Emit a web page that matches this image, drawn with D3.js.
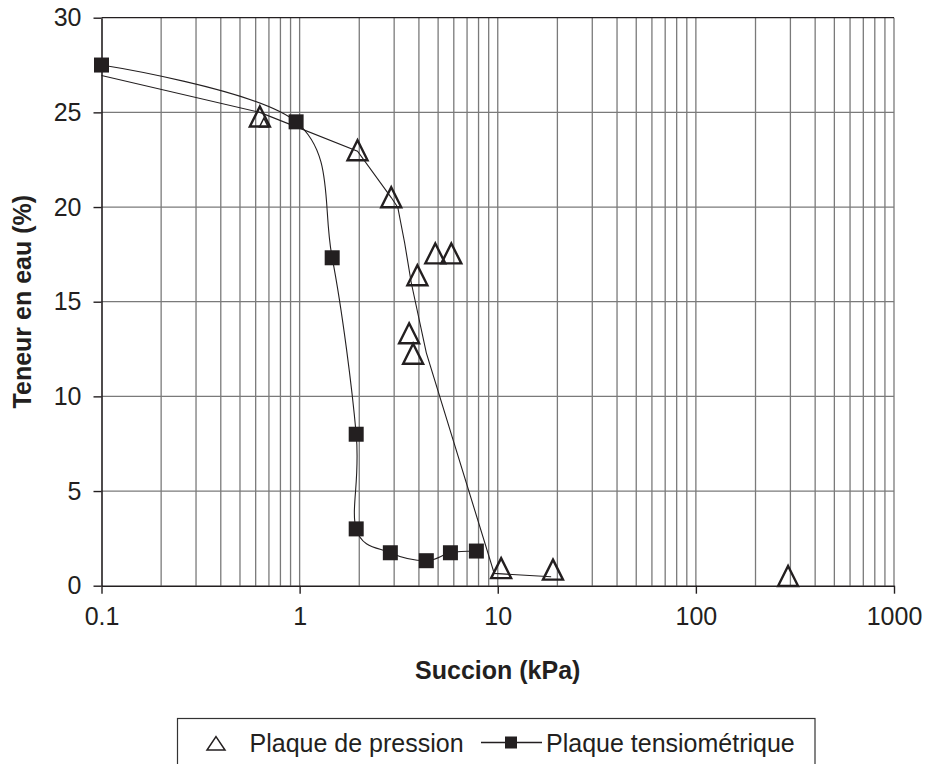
<!DOCTYPE html>
<html>
<head>
<meta charset="utf-8">
<script src="https://cdn.jsdelivr.net/npm/d3@7"></script>
<style>
  html, body { margin: 0; padding: 0; background: #fff; }
  svg { display: block; font-family: "Liberation Sans", Arial, Helvetica, sans-serif; }
</style>
</head>
<body>
<svg id="chart" width="927" height="764"></svg>
<script>
// ---- Data ----
const xTickValues = [0.1, 1, 10, 100, 1000];
const xTickLabels = ["0.1", "1", "10", "100", "1000"];
const yTickValues = [0, 5, 10, 15, 20, 25, 30];
const yTickLabels = ["0", "5", "10", "15", "20", "25", "30"];

// Plaque de pression (triangles, no line)
const pressionX = [0.63, 1.96, 2.9, 4.84, 5.83, 3.93, 3.57, 3.74, 10.4, 19.0, 292];
const pressionY = [24.78, 23.0, 20.52, 17.55, 17.55, 16.4, 13.33, 12.25, 0.93, 0.85, 0.51];
// small, partly hidden triangle next to the first one
const pressionMasqueX = [0.66];
const pressionMasqueY = [24.46];

// Plaque tensiométrique (squares with smoothed line)
const tensioX = [0.1, 0.96, 1.46, 1.93, 1.93, 2.87, 4.36, 5.77, 7.8];
const tensioY = [27.5, 24.5, 17.32, 8.0, 3.0, 1.74, 1.32, 1.74, 1.83];

// unlabelled curve through the pressure-plate data
const courbeX = [0.1, 0.63, 1.96, 2.9, 3.13, 3.39, 3.66, 4.36, 5.95, 9.6, 18.6];
const courbeY = [26.95, 25.0, 22.95, 20.5, 19.98, 18.1, 16.0, 12.3, 7.7, 0.65, 0.47];

const xTitle = "Succion (kPa)";
const yTitle = "Teneur en eau (%)";
const legendLabels = ["Plaque de pression", "Plaque tensiométrique"];

(function () {
// ---- Layout ----
const svg = d3.select("#chart");
const ink = "#231f20";
const gridColor = "#7a7a7a";
const pl = 101.5, pr = 894, pt = 17.7, pb = 585.7;

const x = d3.scaleLog().domain([0.1, 1000]).range([pl, pr]);
const y = d3.scaleLinear().domain([0, 30]).range([pb, pt]);

// vertical grid (all log minor ticks)
const vGrid = [];
for (let e = -1; e < 3; e++) {
  for (let m = 1; m <= 9; m++) {
    const v = m * Math.pow(10, e);
    if (v > 0.1 + 1e-9) vGrid.push(v);
  }
}
vGrid.push(1000);
svg.append("g").selectAll("line").data(vGrid).join("line")
  .attr("x1", d => x(d)).attr("x2", d => x(d))
  .attr("y1", pt).attr("y2", pb)
  .attr("stroke", gridColor).attr("stroke-width", 1.3);

// horizontal grid
svg.append("g").selectAll("line").data(yTickValues.filter(v => v > 0)).join("line")
  .attr("x1", pl).attr("x2", pr)
  .attr("y1", d => y(d)).attr("y2", d => y(d))
  .attr("stroke", d => d === 30 ? ink : gridColor).attr("stroke-width", 1.3);

// axes
const xAxis = d3.axisBottom(x).tickValues(xTickValues)
  .tickFormat((d, i) => xTickLabels[i]).tickSizeInner(8).tickSizeOuter(0).tickPadding(14);
const gx = svg.append("g").attr("transform", `translate(0,${pb})`).call(xAxis);
gx.select(".domain").attr("stroke", ink).attr("stroke-width", 1.6);
gx.selectAll(".tick line").attr("stroke", ink).attr("stroke-width", 1.4);
gx.selectAll(".tick text").attr("fill", ink).attr("font-size", 25)
  .attr("font-family", "'Liberation Sans', Arial, sans-serif");

const yAxis = d3.axisLeft(y).tickValues(yTickValues)
  .tickFormat((d, i) => yTickLabels[i]).tickSizeInner(8).tickSizeOuter(0).tickPadding(12);
const gy = svg.append("g").attr("transform", `translate(${pl},0)`).call(yAxis);
gy.select(".domain").attr("stroke", ink).attr("stroke-width", 1.6);
gy.selectAll(".tick line").attr("stroke", ink).attr("stroke-width", 1.4);
gy.selectAll(".tick text").attr("fill", ink).attr("font-size", 25)
  .attr("font-family", "'Liberation Sans', Arial, sans-serif");

// axis titles
svg.append("text").attr("x", (pl + pr) / 2).attr("y", 679)
  .attr("text-anchor", "middle").attr("font-size", 25).attr("font-weight", "bold")
  .attr("fill", ink).text(xTitle);
svg.append("text").attr("transform", `translate(31,${(pt + pb) / 2}) rotate(-90)`)
  .attr("text-anchor", "middle").attr("font-size", 25).attr("font-weight", "bold")
  .attr("fill", ink).text(yTitle);

// lines
const courbe = courbeX.map((v, i) => [v, courbeY[i]]);
const tensio = tensioX.map((v, i) => [v, tensioY[i]]);
const pression = pressionX.map((v, i) => [v, pressionY[i]]);
const pressionMasque = pressionMasqueX.map((v, i) => [v, pressionMasqueY[i]]);

svg.append("path").datum(courbe)
  .attr("d", d3.line().x(d => x(d[0])).y(d => y(d[1])).curve(d3.curveLinear))
  .attr("fill", "none").attr("stroke", ink).attr("stroke-width", 1.1);

svg.append("path").datum(tensio)
  .attr("d", d3.line().x(d => x(d[0])).y(d => y(d[1])).curve(d3.curveCardinal.tension(0)))
  .attr("fill", "none").attr("stroke", ink).attr("stroke-width", 1.1);

// markers
const tri = (s) => `M0,${-s}L${s},${s}L${-s},${s}Z`;
svg.append("g").selectAll("path").data(pressionMasque).join("path")
  .attr("transform", d => `translate(${x(d[0])},${y(d[1])})`)
  .attr("d", tri(4.5)).attr("fill", "none").attr("stroke", ink).attr("stroke-width", 1.4);
svg.append("g").selectAll("path").data(pression).join("path")
  .attr("transform", d => `translate(${x(d[0])},${y(d[1])})`)
  .attr("d", tri(10)).attr("fill", "none").attr("stroke", ink).attr("stroke-width", 2.4)
  .attr("stroke-linejoin", "miter");

svg.append("g").selectAll("rect").data(tensio).join("rect")
  .attr("x", d => x(d[0]) - 7.5).attr("y", d => y(d[1]) - 7.5)
  .attr("width", 15).attr("height", 15).attr("fill", ink);

// legend
const lg = svg.append("g");
lg.append("rect").attr("x", 177.5).attr("y", 718.5).attr("width", 637.5).attr("height", 70)
  .attr("fill", "#fff").attr("stroke", "#333").attr("stroke-width", 1.2);
lg.append("path").attr("transform", "translate(216,743.4)")
  .attr("d", "M0,-6.7L9,6.7L-9,6.7Z").attr("fill", "none").attr("stroke", ink).attr("stroke-width", 1.5);
lg.append("text").attr("x", 249.5).attr("y", 751.5).attr("font-size", 25).attr("fill", ink)
  .text(legendLabels[0]);
lg.append("line").attr("x1", 481).attr("x2", 542).attr("y1", 742.5).attr("y2", 742.5)
  .attr("stroke", ink).attr("stroke-width", 1.3);
lg.append("rect").attr("x", 505).attr("y", 736.5).attr("width", 12).attr("height", 12).attr("fill", ink);
lg.append("text").attr("x", 546).attr("y", 751.5).attr("font-size", 25).attr("fill", ink)
  .text(legendLabels[1]);
})();
</script>
</body>
</html>
